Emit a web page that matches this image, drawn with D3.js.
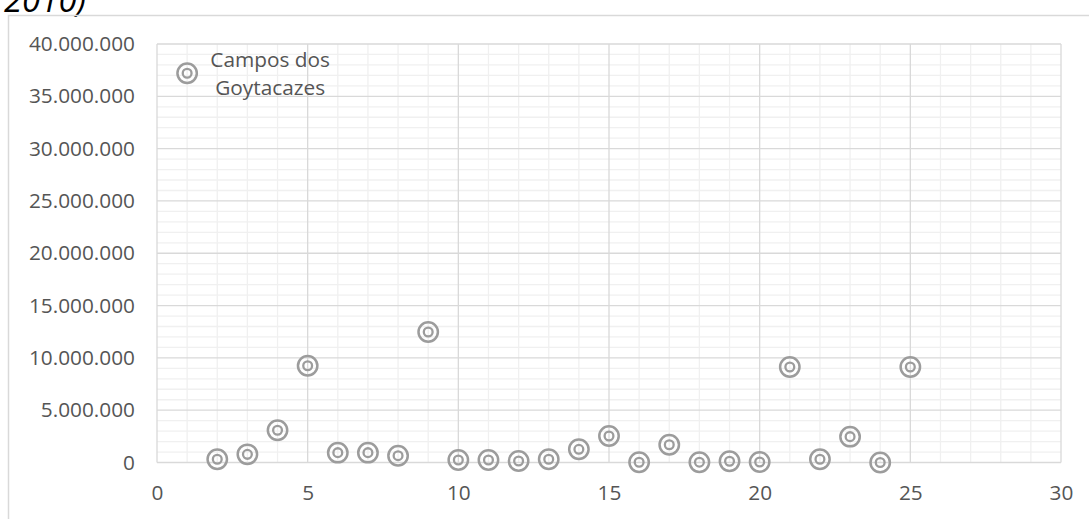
<!DOCTYPE html>
<html>
<head>
<meta charset="utf-8">
<script src="https://cdn.jsdelivr.net/npm/d3@7"></script>
<style>
  html, body { margin: 0; padding: 0; background: #ffffff; }
  svg { display: block; }
  text { font-family: "Open Sans", "Liberation Sans", sans-serif; }
</style>
</head>
<body>
<svg id="chart" width="1090" height="519"></svg>
<script>
// Municipality index along the horizontal axis
const positions = [1, 2, 3, 4, 5, 6, 7, 8, 9, 10, 11, 12, 13, 14, 15, 16, 17, 18, 19, 20, 21, 22, 23, 24, 25];
// Amounts per municipality
const amounts = [
  37200000, 310000, 780000, 3080000, 9250000, 940000, 940000, 650000, 12470000,
  240000, 240000, 140000, 310000, 1260000, 2530000, 20000, 1700000, 30000,
  120000, 50000, 9130000, 310000, 2470000, 0, 9130000
];
// Text labels
const pointLabelLines = ["Campos dos", "Goytacazes"];
const labelledIndex = 0;
const titleTail = "2010)";
// Axis tick values
const xTicks = [0, 5, 10, 15, 20, 25, 30];
const yTicks = [0, 5000000, 10000000, 15000000, 20000000, 25000000, 30000000, 35000000, 40000000];

const ptBR = d3.formatLocale({ decimal: ",", thousands: ".", grouping: [3], currency: ["R$", ""] });
const fmt = ptBR.format(",.0f");

const svg = d3.select("#chart");
const W = 1090, H = 519;
const plot = { left: 157, right: 1061, top: 44, bottom: 462.5 };

const x = d3.scaleLinear().domain([0, 30]).range([plot.left, plot.right]);
const y = d3.scaleLinear().domain([0, 40000000]).range([plot.bottom, plot.top]);

const textColor = "#555555";
const markerColor = "#9c9c9c";
const fontSize = 20.8;

// Title line, partly above the top edge
svg.append("text")
  .attr("x", 86).attr("y", 11.5)
  .attr("text-anchor", "end")
  .attr("font-style", "italic")
  .attr("font-family", "Liberation Sans, Arial, sans-serif")
  .attr("font-size", 33)
  .attr("fill", "#000")
  .text(titleTail);

// Chart frame (top and left edges)
svg.append("path")
  .attr("d", `M8.5,${H} V15.5 H1089`)
  .attr("fill", "none")
  .attr("stroke", "#d9d9d9")
  .attr("stroke-width", 1.5);

// Minor gridlines
const grid = svg.append("g");
const minorX = d3.range(0, 31, 1).filter(v => v % 5 !== 0);
const minorY = d3.range(0, 40000001, 1000000).filter(v => v % 5000000 !== 0);
grid.selectAll("line.mx").data(minorX).join("line")
  .attr("x1", d => x(d)).attr("x2", d => x(d))
  .attr("y1", plot.top).attr("y2", plot.bottom)
  .attr("stroke", "#f0f0f0").attr("stroke-width", 1.3);
grid.selectAll("line.my").data(minorY).join("line")
  .attr("x1", plot.left).attr("x2", plot.right)
  .attr("y1", d => y(d)).attr("y2", d => y(d))
  .attr("stroke", "#f0f0f0").attr("stroke-width", 1.3);

// Major gridlines
grid.selectAll("line.Mx").data(xTicks).join("line")
  .attr("x1", d => x(d)).attr("x2", d => x(d))
  .attr("y1", plot.top).attr("y2", plot.bottom)
  .attr("stroke", "#d9d9d9").attr("stroke-width", 1.3);
grid.selectAll("line.My").data(yTicks).join("line")
  .attr("x1", plot.left).attr("x2", plot.right)
  .attr("y1", d => y(d)).attr("y2", d => y(d))
  .attr("stroke", "#d9d9d9").attr("stroke-width", 1.3);

// Axes (labels only)
const yAxis = svg.append("g")
  .attr("transform", "translate(135,0)")
  .call(d3.axisLeft(y).tickValues(yTicks).tickFormat(fmt).tickSize(0).tickPadding(0));
const xAxis = svg.append("g")
  .attr("transform", `translate(0,${plot.bottom})`)
  .call(d3.axisBottom(x).tickValues(xTicks).tickFormat(d3.format("d")).tickSize(0).tickPadding(23));
[yAxis, xAxis].forEach(a => {
  a.select(".domain").remove();
  a.selectAll("text")
    .attr("fill", textColor)
    .attr("font-size", fontSize)
    .attr("font-family", "Open Sans, sans-serif");
});

// Points: double-ring markers
const data = positions.map((p, i) => ({ p, v: amounts[i] }));
const pts = svg.append("g").selectAll("g").data(data).join("g")
  .attr("transform", d => `translate(${x(d.p)},${y(d.v)})`);
pts.append("circle").attr("r", 9.7)
  .attr("fill", "none").attr("stroke", markerColor).attr("stroke-width", 2.5);
pts.append("circle").attr("r", 4.4)
  .attr("fill", "none").attr("stroke", markerColor).attr("stroke-width", 2.3);

// Data label for the largest point
const lp = data[labelledIndex];
const lbl = svg.append("text")
  .attr("text-anchor", "middle")
  .attr("fill", textColor)
  .attr("font-size", fontSize);
lbl.selectAll("tspan").data(pointLabelLines).join("tspan")
  .attr("x", x(lp.p) + 83)
  .attr("y", (d, i) => y(lp.v) - 6 + i * 27.5)
  .text(d => d);
</script>
</body>
</html>
